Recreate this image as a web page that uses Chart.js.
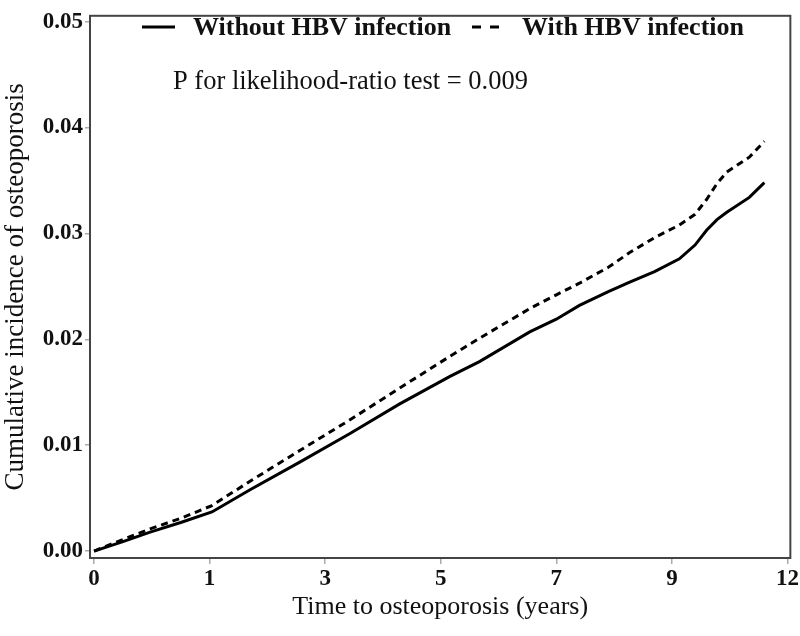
<!DOCTYPE html>
<html><head><meta charset="utf-8">
<script src="https://cdn.jsdelivr.net/npm/chart.js@4.4.0/dist/chart.umd.min.js"></script>
<style>html,body{margin:0;padding:0;background:#fff}#wrap{width:800px;height:636px}</style>
</head><body><div id="wrap"><canvas id="c" width="800" height="636"></canvas></div>
<script>
// ---- data ----
const years = [0, 0.5, 0.97, 1.5, 2.04, 2.7, 3.56, 4.43, 5.29, 6.16, 6.67, 7.54, 8.0, 8.4, 8.9, 9.27, 9.7, 10.13, 10.4, 10.6, 10.78, 10.95, 11.34, 11.6];
const withoutHBV = [0, 0.0009, 0.0018, 0.0027, 0.0037, 0.0058, 0.0084, 0.0111, 0.0139, 0.0165, 0.0179, 0.0207, 0.0219, 0.0232, 0.0245, 0.0254, 0.0264, 0.0276, 0.0289, 0.0303, 0.0313, 0.0320, 0.0334, 0.0348];
const withHBV = [0, 0.0011, 0.0021, 0.0031, 0.0043, 0.0066, 0.0095, 0.0124, 0.0154, 0.0184, 0.0201, 0.0229, 0.0242, 0.0253, 0.0268, 0.0282, 0.0296, 0.0308, 0.0318, 0.0332, 0.0347, 0.0358, 0.0372, 0.0387];
const seriesLabels = ['Without HBV infection', 'With HBV infection'];
const xTickValues = [0, 2, 4, 6, 8, 10, 12];
const xTickLabels = ['0', '1', '3', '5', '7', '9', '12'];
const yTickValues = [0, 0.01, 0.02, 0.03, 0.04, 0.05];
const yTickLabels = ['0.00', '0.01', '0.02', '0.03', '0.04', '0.05'];
const annotationText = 'P for likelihood-ratio test = 0.009';
const xTitle = 'Time to osteoporosis (years)';
const yTitle = 'Cumulative incidence of osteoporosis';

const SERIF = '"Liberation Serif", "DejaVu Serif", serif';

const toPoints = arr => years.map((x, i) => ({x: x, y: arr[i]}));

const framePlugin = {
  id: 'frame',
  afterDatasetsDraw(chart) {
    const {ctx, chartArea: a} = chart;
    ctx.save();
    ctx.strokeStyle = '#444';
    ctx.lineWidth = 2;
    ctx.strokeRect(a.left, a.top, a.right - a.left, a.bottom - a.top);
    ctx.restore();
  }
};

const legendPlugin = {
  id: 'insideLegend',
  afterDraw(chart) {
    const {ctx} = chart;
    const items = [
      {x0: 142, x1: 175, tx: 193},
      {x0: 472, x1: 500, tx: 522}
    ];
    const y = 27;
    ctx.save();
    chart.data.datasets.forEach((ds, i) => {
      const it = items[i];
      ctx.strokeStyle = ds.borderColor;
      ctx.lineWidth = ds.borderWidth;
      ctx.setLineDash(i === 1 ? [9, 9] : []);
      ctx.beginPath();
      ctx.moveTo(it.x0, y);
      ctx.lineTo(it.x1, y);
      ctx.stroke();
      ctx.setLineDash([]);
      ctx.fillStyle = '#111';
      ctx.font = 'bold 26px ' + SERIF;
      ctx.textBaseline = 'middle';
      ctx.textAlign = 'left';
      ctx.fillText(ds.label, it.tx, y + 1);
    });
    ctx.font = '26.5px ' + SERIF;
    ctx.fillStyle = '#111';
    ctx.textBaseline = 'middle';
    ctx.fillText(annotationText, 173, 82);
    ctx.restore();
  }
};

new Chart(document.getElementById('c'), {
  type: 'line',
  data: {
    datasets: [
      {label: seriesLabels[0], data: toPoints(withoutHBV), borderColor: '#000', borderWidth: 3, borderDash: [], pointRadius: 0, tension: 0, fill: false},
      {label: seriesLabels[1], data: toPoints(withHBV), borderColor: '#000', borderWidth: 3, borderDash: [7, 5], pointRadius: 0, tension: 0, fill: false}
    ]
  },
  options: {
    responsive: false,
    devicePixelRatio: 1,
    animation: false,
    layout: {padding: {left: 0, top: 4, right: 9, bottom: 0}},
    plugins: {legend: {display: false}, tooltip: {enabled: false}, title: {display: false}},
    scales: {
      x: {
        type: 'linear', min: -0.07, max: 12.05,
        afterBuildTicks: s => { s.ticks = xTickValues.map(v => ({value: v})); },
        afterFit: s => { s.height = 78; },
        ticks: {
          callback: (v, i) => xTickLabels[i],
          autoSkip: false, maxRotation: 0, padding: 1,
          color: '#111', font: {family: SERIF, size: 23, weight: 'bold'}
        },
        grid: {display: true, drawOnChartArea: false, drawTicks: true, tickLength: 6, color: '#aaa', lineWidth: 1.5},
        border: {display: false},
        title: {display: true, text: xTitle, color: '#111', font: {family: SERIF, size: 26}, padding: {top: 0, bottom: 13}}
      },
      y: {
        type: 'linear', min: -0.00065, max: 0.05055,
        afterBuildTicks: s => { s.ticks = yTickValues.map(v => ({value: v})); },
        afterFit: s => { s.width = 90; },
        ticks: {
          callback: (v, i) => yTickLabels[i],
          autoSkip: false, padding: 2,
          color: '#111', font: {family: SERIF, size: 23, weight: 'bold'}
        },
        grid: {display: true, drawOnChartArea: false, drawTicks: true, tickLength: 5, color: '#aaa', lineWidth: 1.5},
        border: {display: false},
        title: {display: true, text: yTitle, color: '#111', font: {family: SERIF, size: 27}, padding: {top: 0, bottom: 0}}
      }
    }
  },
  plugins: [framePlugin, legendPlugin]
});
</script>
</body></html>
